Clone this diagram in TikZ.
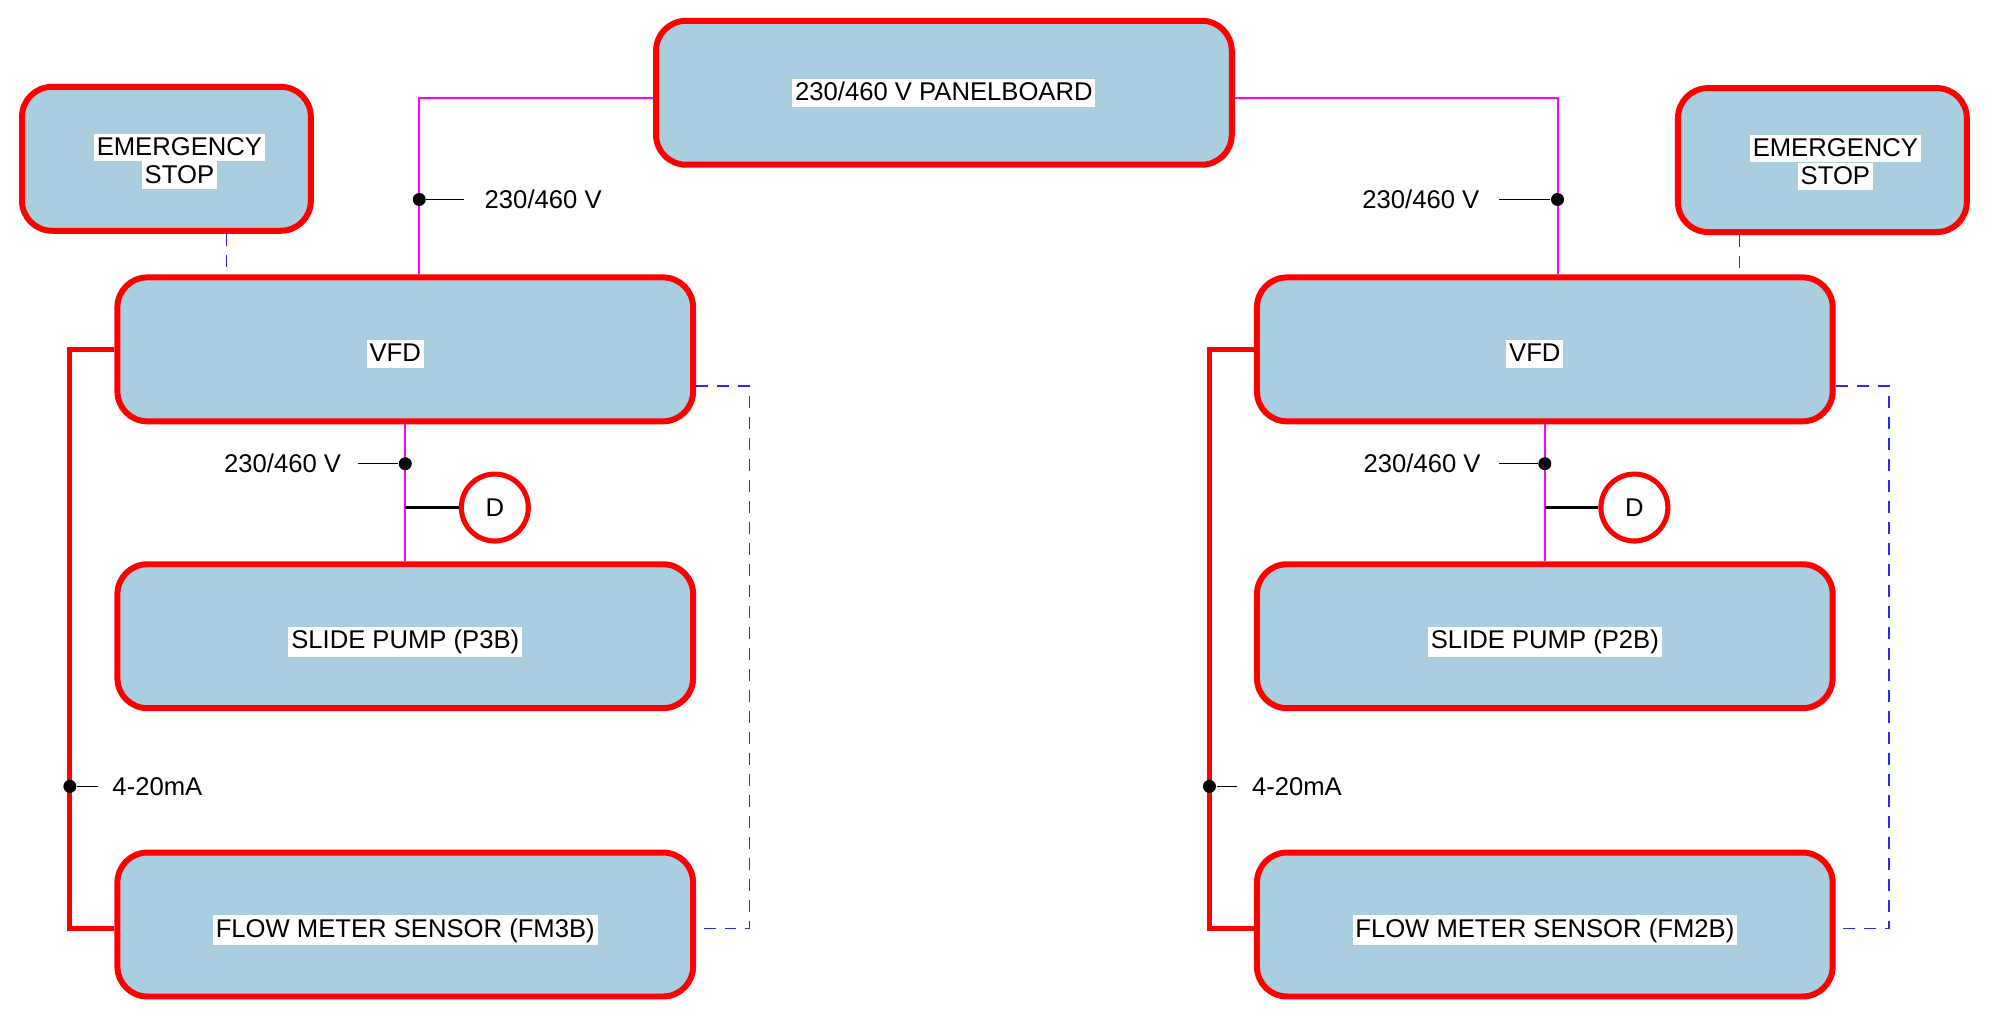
\documentclass[tikz,border=0pt]{standalone}
\usepackage{fontspec}
\setmainfont{Liberation Sans}
\usetikzlibrary{positioning}
\definecolor{boxfill}{RGB}{169,206,224}
\definecolor{ctrlblue}{RGB}{40,40,255}
\definecolor{powerpink}{RGB}{255,0,255}
\newcommand{\boxfont}{\fontsize{7.3}{7.9}\selectfont}
\newcommand{\wb}[1]{{\setlength{\fboxsep}{0.8pt}\colorbox{white}{\rule[-0.85pt]{0pt}{6.25pt}#1}}}
\newcommand{\wbl}[1]{\raisebox{-1.3pt}[6.2pt][1.65pt]{\wb{#1}}}

\begin{document}
\begin{tikzpicture}[x=0.012704cm, y=-0.012704cm,
  unit/.style={draw=red, line width=1.7pt, fill=boxfill, rounded corners=0.3cm,
               minimum width=5.76cm, minimum height=1.44cm, align=center, font=\boxfont},
  estop/.style={unit, minimum width=2.89cm},
  gauge/.style={circle, draw=red, line width=1.45pt, fill=white, minimum size=0.67cm,
                inner sep=0pt, font=\boxfont},
  tag/.style={inner sep=0pt, font=\boxfont},
  power/.style={powerpink, line width=0.45pt},
  ctrl/.style={ctrlblue, line width=0.5pt, dash pattern=on 0.12cm off 0.09cm},
  signal/.style={red, line width=1.45pt},
  lead/.style={black, line width=0.4pt},
  dot/.style={circle, fill=black, inner sep=0pt, minimum size=0.13cm},
]
\useasboundingbox (0,0) rectangle (1568,799);

\node[unit] (panel) at (743,73) {\wb{230/460 V PANELBOARD}};
\node[estop, label={[align=center, font=\boxfont, xshift=0.13cm, yshift=-0.025cm]center:{\wb{EMERGENCY}\\\wb{STOP}}}] (estopL) at (131,125) {};
\node[estop, label={[align=center, font=\boxfont, xshift=0.13cm, yshift=-0.025cm]center:{\wb{EMERGENCY}\\\wb{STOP}}}] (estopR) at (1434.5,126) {};

\node[unit] (vfdL) at (319,275) {\wbl{VFD}\hspace*{0.2cm}};
\node[unit, below=1.37cm of vfdL] (pumpL) {\wbl{SLIDE PUMP (P3B)}};
\node[unit, below=1.385cm of pumpL] (fmL) {\wbl{FLOW METER SENSOR (FM3B)}};
\node[gauge] (dL) at (389.5,399.5) {D};

\node[unit] (vfdR) at (1216,275) {\wbl{VFD}\hspace*{0.2cm}};
\node[unit, below=1.37cm of vfdR] (pumpR) {\wbl{SLIDE PUMP (P2B)}};
\node[unit, below=1.385cm of pumpR] (fmR) {\wbl{FLOW METER SENSOR (FM2B)}};
\node[gauge] (dR) at (1286.5,399.5) {D};

\draw[power] ([yshift=-0.05cm]panel.west) -| ([xshift=0.14cm]vfdL.north);
\draw[power] ([yshift=-0.05cm]panel.east) -| ([xshift=0.13cm]vfdR.north);
\draw[power] (vfdL) -- (pumpL);
\draw[power] (vfdR) -- (pumpR);

\coordinate (esL) at ([xshift=0.6cm]estopL.south);
\coordinate (esR) at ([xshift=-0.83cm]estopR.south);
\draw[ctrl] (esL) -- (esL |- vfdL.north);
\draw[ctrl] (esR) -- (esR |- vfdR.north);

\coordinate (retL) at (590,500);
\coordinate (retR) at (1487,500);
\draw[ctrl] ([yshift=-0.37cm]vfdL.east) -| (retL) |- ([yshift=-0.04cm]fmL.east);
\draw[ctrl] ([yshift=-0.37cm]vfdR.east) -| (retR) |- ([yshift=-0.04cm]fmR.east);

\coordinate (busL) at (55,619);
\coordinate (busR) at (952,619);
\draw[signal] (vfdL.west) -| (busL) |- ([yshift=-0.04cm]fmL.west);
\draw[signal] (vfdR.west) -| (busR) |- ([yshift=-0.04cm]fmR.west);

\draw[lead, line width=0.8pt] (dL.west -| vfdL.south) -- (dL);
\draw[lead, line width=0.8pt] (dR.west -| vfdR.south) -- (dR);

\node[dot] (tapTL) at (330,157) {};
\node[dot] (tapTR) at (1226,157) {};
\node[dot] (tapML) at (319,365) {};
\node[dot] (tapMR) at (1216,365) {};
\node[dot] (busLdot) at (busL) {};
\node[dot] (busRdot) at (busR) {};

\node[tag, anchor=west] (vTL) at (381,157) {230/460 V};
\node[tag, anchor=east] (vTR) at (1165,157) {230/460 V};
\node[tag, anchor=east] (vML) at (269,365) {230/460 V};
\node[tag, anchor=east] (vMR) at (1166,365) {230/460 V};
\node[tag, anchor=west] (mAL) at (88,619) {4-20mA};
\node[tag, anchor=west] (mAR) at (985,619) {4-20mA};

\draw[lead, shorten >=0.2cm] (tapTL) -- (vTL);
\draw[lead, shorten >=0.19cm] (tapTR) -- (vTR);
\draw[lead, shorten >=0.165cm] (tapML) -- (vML);
\draw[lead, shorten >=0.18cm] (tapMR) -- (vMR);
\draw[lead, shorten >=0.14cm] (busLdot) -- (mAL);
\draw[lead, shorten >=0.14cm] (busRdot) -- (mAR);
\end{tikzpicture}
\end{document}
